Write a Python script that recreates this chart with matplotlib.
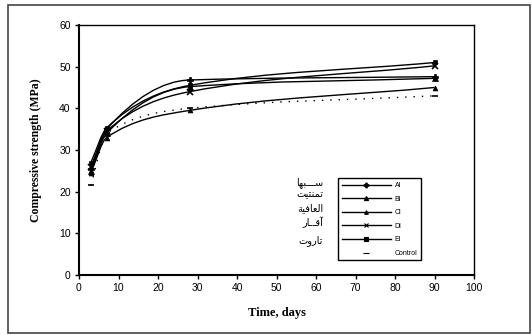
import numpy as np
import matplotlib
matplotlib.use('Agg')
import matplotlib.pyplot as plt
from matplotlib.path import Path
from matplotlib.patches import PathPatch, Rectangle
from matplotlib.lines import Line2D

days = [3, 7, 28, 90]
al = [25.5, 35.0, 46.8, 47.6]
bl = [25.0, 34.0, 45.2, 47.2]
cl = [24.5, 33.0, 39.5, 45.0]
dl = [26.0, 34.5, 44.0, 50.2]
el = [27.0, 35.3, 45.5, 51.0]
control = [21.5, 34.0, 40.0, 43.0]

names = ['Al', 'Bl', 'Cl', 'Dl', 'El', 'Control']
places = ['ســـبها', 'تمنتيت', 'العافية', 'آقــار', 'تاروت']

# arabic presentation forms: (isolated, final, initial, medial)
FORMS = {
    'ا': ('\uFE8D', '\uFE8E', None, None),
    'آ': ('\uFE81', '\uFE82', None, None),
    'ب': ('\uFE8F', '\uFE90', '\uFE91', '\uFE92'),
    'ة': ('\uFE93', '\uFE94', None, None),
    'ت': ('\uFE95', '\uFE96', '\uFE97', '\uFE98'),
    'ر': ('\uFEAD', '\uFEAE', None, None),
    'س': ('\uFEB1', '\uFEB2', '\uFEB3', '\uFEB4'),
    'ع': ('\uFEC9', '\uFECA', '\uFECB', '\uFECC'),
    'ف': ('\uFED1', '\uFED2', '\uFED3', '\uFED4'),
    'ق': ('\uFED5', '\uFED6', '\uFED7', '\uFED8'),
    'ل': ('\uFEDD', '\uFEDE', '\uFEDF', '\uFEE0'),
    'م': ('\uFEE1', '\uFEE2', '\uFEE3', '\uFEE4'),
    'ن': ('\uFEE5', '\uFEE6', '\uFEE7', '\uFEE8'),
    'ه': ('\uFEE9', '\uFEEA', '\uFEEB', '\uFEEC'),
    'و': ('\uFEED', '\uFEEE', None, None),
    'ي': ('\uFEF1', '\uFEF2', '\uFEF3', '\uFEF4'),
    'ـ': ('\u0640', '\u0640', '\u0640', '\u0640'),
}

def shape(word):
    out = []
    for i, c in enumerate(word):
        f = FORMS[c]
        prev = word[i-1] if i > 0 else None
        nxt = word[i+1] if i < len(word)-1 else None
        jp = prev is not None and FORMS[prev][2] is not None
        jn = nxt is not None and f[2] is not None
        if jp and jn:
            out.append(f[3])
        elif jp:
            out.append(f[1])
        elif jn:
            out.append(f[2])
        else:
            out.append(f[0])
    return ''.join(out[::-1])

def smooth_path(x, y):
    # monotone cubic, drawn as bezier segments
    x = np.asarray(x, float); y = np.asarray(y, float)
    h = np.diff(x); d = np.diff(y) / h
    m = np.zeros(len(x))
    m[0] = d[0]; m[-1] = d[-1]
    for k in range(1, len(x)-1):
        if d[k-1]*d[k] <= 0:
            m[k] = 0
        else:
            w1 = 2*h[k] + h[k-1]; w2 = h[k] + 2*h[k-1]
            m[k] = (w1 + w2) / (w1/d[k-1] + w2/d[k])
    verts = [(x[0], y[0])]
    codes = [Path.MOVETO]
    for k in range(len(x)-1):
        verts += [(x[k] + h[k]/3, y[k] + m[k]*h[k]/3),
                  (x[k+1] - h[k]/3, y[k+1] - m[k+1]*h[k]/3),
                  (x[k+1], y[k+1])]
        codes += [Path.CURVE4]*3
    return Path(verts, codes)

fig = plt.figure(figsize=(5.32, 3.35), dpi=100)
fig.patches.append(Rectangle((8/532, 2/335), 522/532, 328/335, transform=fig.transFigure,
                             fill=False, edgecolor='#444444', linewidth=1.2))
ax = fig.add_axes([79/532, 1-275/335, 395/532, 250/335])

series = [al, bl, cl, dl, el, control]
markers = ['P', '^', '^', 'x', 's', '_']
msizes = [4.5, 4, 3.5, 4, 3.5, 5]
handles = []
for vals, mk, ms, nm in zip(series, markers, msizes, names):
    ls = (0, (1, 5)) if nm == 'Control' else '-'
    ax.add_patch(PathPatch(smooth_path(days, vals), fill=False, edgecolor='black',
                           linewidth=1.0, linestyle=ls))
    ax.plot(days, vals, linestyle='none', marker=mk, markersize=ms, color='black',
            markeredgewidth=1.2 if mk in ('x', '_') else 0.5)
    handles.append(Line2D([], [], color='black', linewidth=1.0,
                          linestyle='none' if nm == 'Control' else '-',
                          marker=mk, markersize=ms*0.75, markeredgewidth=0.8))

ax.set_xlim(0, 100)
ax.set_ylim(0, 60)
ax.set_xticks(range(0, 101, 10))
ax.set_yticks(range(0, 61, 10))
ax.tick_params(direction='out', length=3, width=1, labelsize=7.5, pad=3)
for lab in ax.get_xticklabels() + ax.get_yticklabels():
    lab.set_family('Liberation Sans')
for s in ax.spines.values():
    s.set_linewidth(1.0)
ax.spines['left'].set_linewidth(1.5)
ax.spines['bottom'].set_linewidth(1.5)

ax.set_xlabel('Time, days', fontsize=9, fontweight='bold', family='Liberation Serif', labelpad=10)
ax.set_ylabel('Compressive strength (MPa)', fontsize=8.5, fontweight='bold',
              family='Liberation Serif', labelpad=12)

leg = ax.legend(handles, names, loc='upper left', bbox_to_anchor=(0.648, 0.40),
                handlelength=7, labelspacing=0.95, handletextpad=0.6,
                borderpad=0.5, fancybox=False, framealpha=1, edgecolor='black',
                prop={'family': 'Liberation Sans', 'size': 5})
leg.get_frame().set_linewidth(1.0)

ys = [0.368, 0.322, 0.268, 0.212, 0.138]
for txt, yy in zip(places, ys):
    ax.text(0.618, yy, shape(txt), transform=ax.transAxes, ha='right', va='center',
            fontsize=7, family='DejaVu Sans')

fig.savefig('out.png', dpi=100)
